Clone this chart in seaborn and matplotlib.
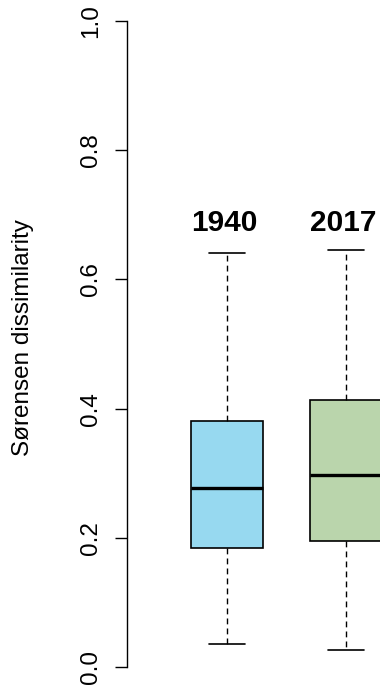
import numpy as np
import pandas as pd
import matplotlib
matplotlib.use("Agg")
import matplotlib.pyplot as plt
import seaborn as sns

# Five-number summaries (min, Q1, median, Q3, max) of Sørensen dissimilarity per survey year
years = ["1940", "2017"]
summary_1940 = [0.036, 0.184, 0.277, 0.381, 0.641]
summary_2017 = [0.026, 0.195, 0.297, 0.413, 0.645]
box_colors = ["#97D9F0", "#BAD5AC"]
y_ticks = [0.0, 0.2, 0.4, 0.6, 0.8, 1.0]

df = pd.DataFrame({
    "year": [years[0]] * len(summary_1940) + [years[1]] * len(summary_2017),
    "dissimilarity": summary_1940 + summary_2017,
})

sns.set_style("white")
plt.rcParams["font.family"] = ["Liberation Sans", "DejaVu Sans"]
plt.rcParams.update({
    "text.color": "black", "axes.labelcolor": "black",
    "xtick.color": "black", "ytick.color": "black",
})

fig = plt.figure(figsize=(3.8, 6.95), dpi=100)
ax = fig.add_axes([127 / 380, 0.0, 253 / 380, 1.0])

sns.boxplot(
    data=df, x="year", y="dissimilarity", hue="year", palette=box_colors,
    order=years, hue_order=years, legend=False, saturation=1,
    width=0.6, whis=(0, 100), linecolor="black", linewidth=1.2,
    whiskerprops={"linestyle": (0, (4.2, 3.0)), "linewidth": 1.0},
    capprops={"linewidth": 1.2},
    medianprops={"linewidth": 2.4, "color": "black"},
    showfliers=False, ax=ax,
)

for i, yr in enumerate(years):
    ax.text(i - 0.025, 0.688, yr, ha="center", va="center",
            fontsize=21.5, fontweight="bold", color="black")

ax.set_xlim(-0.840, 1.286)
ax.set_ylim(-0.0433, 1.0325)

# R-style axis: only the left spine, bounded to the tick range
for side in ["top", "right", "bottom"]:
    ax.spines[side].set_visible(False)
ax.spines["left"].set_bounds(0.0, 1.0)
ax.spines["left"].set_linewidth(1.0)
ax.spines["left"].set_color("black")

ax.set_xticks([])
ax.set_xlabel("")
ax.set_yticks(y_ticks)
ax.set_yticklabels([f"{t:.1f}" for t in y_ticks], rotation=90, va="center",
                   fontsize=17.5, color="black")
ax.tick_params(axis="y", left=True, length=8.6, width=1.0, color="black",
               pad=9.4, direction="out")

ax.set_ylabel("Sørensen dissimilarity", fontsize=17.5, color="black")
ax.yaxis.set_label_coords(-0.411, 0.5137)
ax.yaxis.label.set_verticalalignment("center")

fig.savefig("out.png", dpi=100)
